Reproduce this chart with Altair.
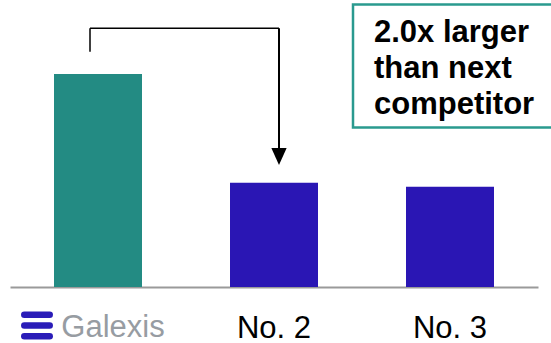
import altair as alt
import pandas as pd

# Market position: relative volume of the three largest players
companies = ["Galexis", "No. 2", "No. 3"]
volumes = [2.04, 1.00, 0.96]
bar_colors = ["#238b83", "#2a16b4", "#2a16b4"]

ratio = volumes[0] / volumes[1]
callout_lines = [f"{ratio:.1f}x larger", "than next", "competitor"]

bars_df = pd.DataFrame({"company": companies, "volume": volumes, "color": bar_colors})
one = pd.DataFrame({"k": [0]})

FONT = "Liberation Sans"
TEAL = "#2a9a8f"
LOGO_BLUE = "#2a1cb8"

x_scale = alt.Scale(domain=companies, paddingInner=0.5, paddingOuter=0.25)
y_scale = alt.Scale(domain=[0, 2.75], nice=False, zero=True)

bars = alt.Chart(bars_df).mark_bar().encode(
    x=alt.X(
        "company:N",
        scale=x_scale,
        sort=companies,
        axis=alt.Axis(
            title=None,
            domainColor="#9a9a9a",
            domainWidth=2,
            ticks=False,
            labelAngle=0,
            labelFont=FONT,
            labelFontSize=31,
            labelColor="black",
            labelBaseline="alphabetic",
            labelPadding=50,
            labelExpr="datum.value == 'Galexis' ? '' : datum.value",
        ),
    ),
    y=alt.Y("volume:Q", scale=y_scale, axis=None),
    color=alt.Color("color:N", scale=None),
)

# Brand name under the leading bar, set in grey beside the logo
brand = alt.Chart(bars_df[bars_df["company"] == "Galexis"]).mark_text(
    font=FONT, fontSize=31, color="#979ca2", baseline="alphabetic", dx=15
).encode(
    x=alt.X("company:N", scale=x_scale, sort=companies),
    y=alt.value(336.5),
    text="company:N",
)

# Three rounded stripes of the logo
logo = [
    alt.Chart(one).mark_rule(color=LOGO_BLUE, strokeWidth=6.5, strokeCap="round").encode(
        x=alt.value(14.3), x2=alt.value(39.7), y=alt.value(yy)
    )
    for yy in (314.7, 325.4, 336.2)
]

# Connector from the leader to the next competitor
conn_left = alt.Chart(one).mark_rule(color="black", strokeWidth=1.5).encode(
    x=alt.value(80), y=alt.value(28.3), y2=alt.value(51.7)
)
conn_top = alt.Chart(one).mark_rule(color="black", strokeWidth=1.5).encode(
    x=alt.value(80), x2=alt.value(269), y=alt.value(28.3)
)
conn_down = alt.Chart(one).mark_rule(color="black", strokeWidth=2).encode(
    x=alt.value(269), y=alt.value(28.3), y2=alt.value(152)
)
arrow_head = alt.Chart(one).mark_point(
    shape="M -0.9 -1 L 0.9 -1 L 0 1 Z", filled=True, size=289, color="black", opacity=1
).encode(x=alt.value(269), y=alt.value(156.5))

# Callout box
box = alt.Chart(one).mark_rect(fill="white", stroke=TEAL, strokeWidth=2.5).encode(
    x=alt.value(343), x2=alt.value(570), y=alt.value(4.5), y2=alt.value(127.5)
)
box_text = alt.Chart(one).mark_text(
    align="left", baseline="alphabetic", font=FONT, fontSize=31,
    fontWeight="bold", lineHeight=36, color="black"
).encode(x=alt.value(364), y=alt.value(41.5), text=alt.value(callout_lines))

chart = alt.layer(
    bars, brand, *logo, conn_left, conn_top, conn_down, arrow_head, box, box_text
).properties(
    width=528,
    height=287,
    padding={"left": 10, "top": 0, "right": 13, "bottom": 56},
    autosize=alt.AutoSizeParams(type="none"),
    background="white",
).configure_view(stroke=None)

chart.save("out.html", embed_options={"renderer": "svg", "actions": False})
